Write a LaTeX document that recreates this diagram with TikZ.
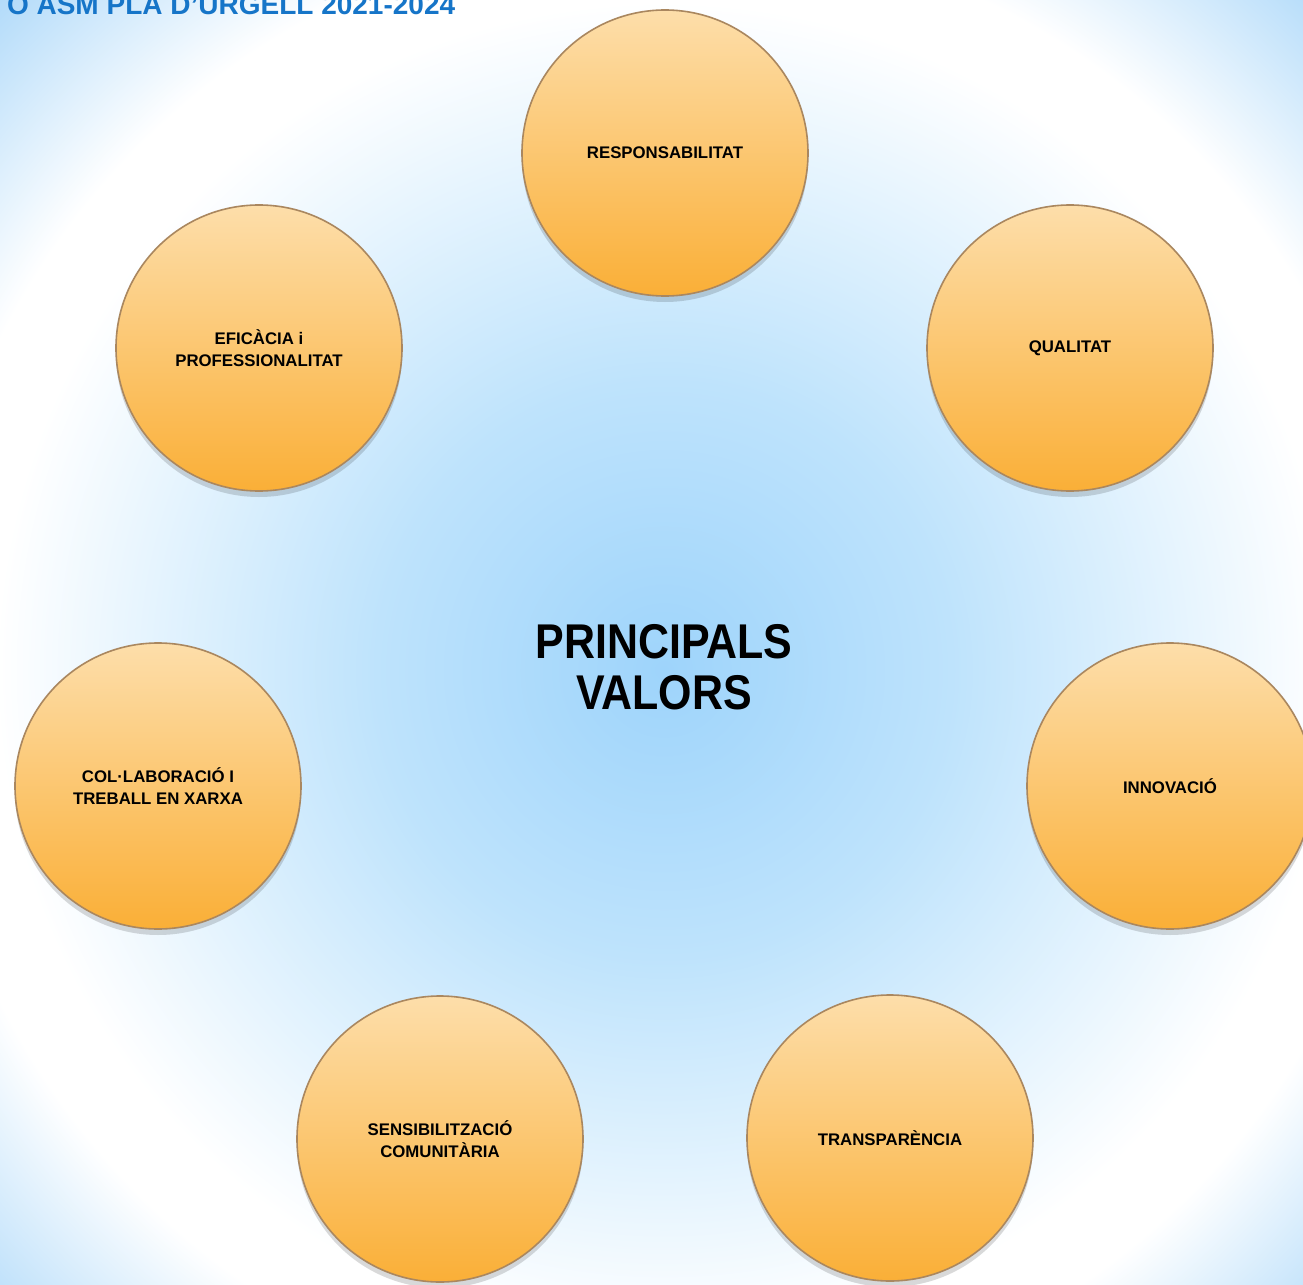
\documentclass[tikz,border=0pt]{standalone}
\usepackage{fontspec}
\setmainfont{Liberation Sans}
\newfontfamily\narrowfont[FakeStretch=0.88]{Liberation Sans}
\usetikzlibrary{shadows}

\definecolor{bgcentre}{RGB}{158,212,251}
\definecolor{bgmid}{RGB}{190,227,252}
\definecolor{bgcorner}{RGB}{172,216,249}
\definecolor{valuetop}{RGB}{253,222,170}
\definecolor{valuebottom}{RGB}{250,175,55}
\definecolor{valueline}{RGB}{170,135,95}
\definecolor{titleblue}{RGB}{22,117,200}

\pgfdeclareradialshading{backshade}{\pgfpointorigin}{color(0bp)=(bgcentre); color(7.5bp)=(bgmid); color(17.4bp)=(white); color(19.3bp)=(white); color(25bp)=(bgcorner); color(50bp)=(bgcorner)}

\begin{document}
\begin{tikzpicture}[x=0.5pt, y=-0.5pt,
    value/.style={circle, minimum size=143pt, inner sep=0pt, draw=valueline, line width=0.8pt,
                  top color=valuetop, bottom color=valuebottom,
                  drop shadow={shadow xshift=0pt, shadow yshift=-3pt, fill=black, opacity=0.15},
                  align=center, font=\bfseries\fontsize{8.4}{10.8}\selectfont},
    centretext/.style={align=center, font=\narrowfont\bfseries\fontsize{24.4}{25.5}\selectfont}]
            \useasboundingbox (0,0) rectangle (1303,1285);
            \clip (0,0) rectangle (1303,1285);

            % background
            \shade[shading=backshade] (664,670) circle (480pt);

            \node[anchor=base west, text=titleblue, font=\bfseries\fontsize{14}{16}\selectfont]
                (title) at (0,14) {O ASM PLA D'URGELL 2021-2024};

            % values around the centre
            \node[value] (resp)   at (665,153)  {RESPONSABILITAT};
            \node[value] (qual)   at (1070,348) {QUALITAT};
            \node[value] (innov)  at (1170,786) {INNOVACIÓ};
            \node[value] (transp) at (890,1138) {TRANSPARÈNCIA};
            \node[value] (sensib) at (440,1139) {SENSIBILITZACIÓ\\COMUNITÀRIA};
            \node[value] (collab) at (158,786)  {COL·LABORACIÓ I\\TREBALL EN XARXA};
            \node[value] (efic)   at (259,348)  {EFICÀCIA i\\PROFESSIONALITAT};

            \node[centretext] (centre) at (664,667) {PRINCIPALS\\VALORS};
        \end{tikzpicture}
\end{document}
